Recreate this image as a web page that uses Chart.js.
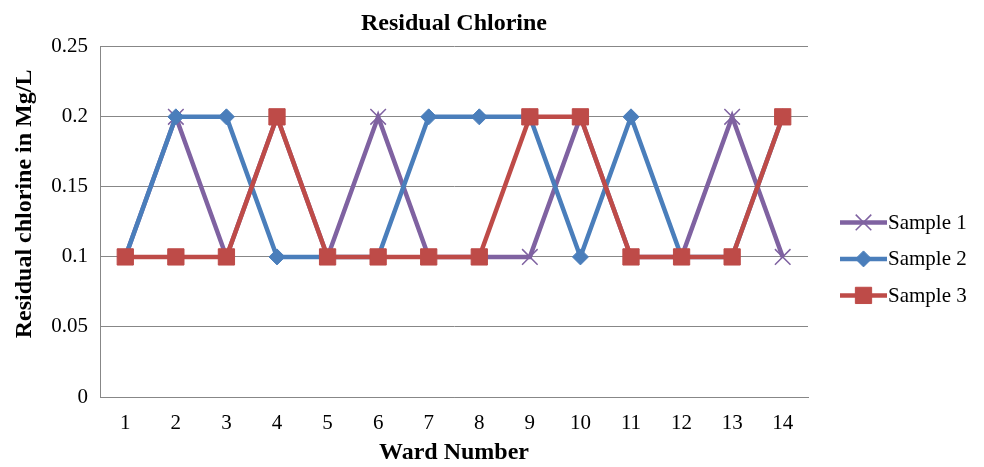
<!DOCTYPE html>
<html>
<head>
<meta charset="utf-8">
<script src="https://cdn.jsdelivr.net/npm/chart.js@4/dist/chart.umd.min.js"></script>
<style>
  html, body { margin: 0; padding: 0; background: #fff; }
</style>
</head>
<body>
<canvas id="chlorineChart" width="984" height="467"></canvas>
<script>
// Data
const wards = ['1', '2', '3', '4', '5', '6', '7', '8', '9', '10', '11', '12', '13', '14'];
const sample1 = [0.1, 0.2, 0.1, 0.2, 0.1, 0.2, 0.1, 0.1, 0.1, 0.2, 0.1, 0.1, 0.2, 0.1];
const sample2 = [0.1, 0.2, 0.2, 0.1, 0.1, 0.1, 0.2, 0.2, 0.2, 0.1, 0.2, 0.1, 0.1, 0.2];
const sample3 = [0.1, 0.1, 0.1, 0.2, 0.1, 0.1, 0.1, 0.1, 0.2, 0.2, 0.1, 0.1, 0.1, 0.2];
const yTicks = [0, 0.05, 0.1, 0.15, 0.2, 0.25];

const serif = '"Liberation Serif", "Times New Roman", serif';
const gridGray = '#878787';

// Legend on the right: short line with marker, then label
const sideLegend = {
    id: 'sideLegend',
    afterDraw(chart) {
        const ctx = chart.ctx;
        const area = chart.chartArea;
        const x0 = area.right + 32;
        const midY = (area.top + area.bottom) / 2 + 37;
        ctx.save();
        chart.data.datasets.forEach((ds, i) => {
            const y = midY + (i - 1) * 36.5;
            ctx.strokeStyle = ds.borderColor;
            ctx.lineWidth = ds.borderWidth;
            ctx.beginPath();
            ctx.moveTo(x0, y);
            ctx.lineTo(x0 + 47, y);
            ctx.stroke();
            ctx.fillStyle = ds.pointBackgroundColor;
            ctx.strokeStyle = ds.pointBorderColor;
            ctx.lineWidth = ds.pointBorderWidth;
            Chart.helpers.drawPoint(ctx, {
                pointStyle: ds.pointStyle,
                radius: ds.pointRadius,
                borderWidth: ds.pointBorderWidth,
                rotation: 0
            }, x0 + 23.5, y);
            ctx.fillStyle = '#000';
            ctx.font = '21px ' + serif;
            ctx.textBaseline = 'middle';
            ctx.textAlign = 'left';
            ctx.fillText(ds.label, x0 + 48, y + 1);
        });
        ctx.restore();
    }
};

const ctx = document.getElementById('chlorineChart').getContext('2d');
const chlorineChart = new Chart(ctx, {
    type: 'line',
    data: {
        labels: wards,
        datasets: [{
            label: 'Sample 1',
            data: sample1,
            borderColor: '#7f62a1',
            borderWidth: 4.5,
            pointStyle: 'crossRot',
            pointRadius: 11,
            pointBorderWidth: 1.5,
            pointBorderColor: '#7f62a1',
            pointBackgroundColor: '#7f62a1',
            tension: 0,
            order: 3
        }, {
            label: 'Sample 2',
            data: sample2,
            borderColor: '#4a7ebb',
            borderWidth: 4.5,
            pointStyle: 'rectRot',
            pointRadius: 8,
            pointBorderWidth: 1,
            pointBorderColor: '#4a7ebb',
            pointBackgroundColor: '#4a7ebb',
            tension: 0,
            order: 2
        }, {
            label: 'Sample 3',
            data: sample3,
            borderColor: '#be4b48',
            borderWidth: 4.5,
            pointStyle: 'rect',
            pointRadius: 11.5,
            pointBorderWidth: 1,
            pointBorderColor: '#be4b48',
            pointBackgroundColor: '#be4b48',
            tension: 0,
            order: 1
        }]
    },
    options: {
        responsive: false,
        animation: false,
        layout: { padding: { left: 0, right: 176, top: 0, bottom: 0 } },
        plugins: {
            legend: { display: false },
            tooltip: { enabled: false },
            title: {
                display: true,
                text: 'Residual Chlorine',
                color: '#000',
                fullSize: false,
                font: { family: serif, size: 24, weight: 'bold' },
                padding: { top: 9, bottom: 9 }
            }
        },
        scales: {
            x: {
                offset: true,
                grid: { display: false, drawTicks: false },
                border: { display: true, color: gridGray, width: 1 },
                ticks: {
                    color: '#000',
                    font: { family: serif, size: 21 },
                    padding: 14,
                    maxRotation: 0,
                    autoSkip: false
                },
                title: {
                    display: true,
                    text: 'Ward Number',
                    color: '#000',
                    font: { family: serif, size: 24, weight: 'bold' },
                    padding: { top: 0, bottom: 0 }
                },
                afterFit(scale) { scale.height = 70; }
            },
            y: {
                min: 0,
                max: 0.25,
                afterBuildTicks(scale) {
                    scale.ticks = yTicks.map(v => ({ value: v }));
                },
                grid: { color: gridGray, drawTicks: false },
                border: { display: true, color: gridGray, width: 1 },
                ticks: {
                    color: '#000',
                    font: { family: serif, size: 21 },
                    padding: 12,
                    callback: v => String(v)
                },
                title: {
                    display: true,
                    // leading spaces lift the rotated title a little, as in the original
                    text: '      Residual chlorine in Mg/L',
                    color: '#000',
                    font: { family: serif, size: 24, weight: 'bold' },
                    padding: { top: 10, bottom: 0 }
                },
                afterFit(scale) { scale.width = 100; }
            }
        }
    },
    plugins: [sideLegend]
});
</script>
</body>
</html>
